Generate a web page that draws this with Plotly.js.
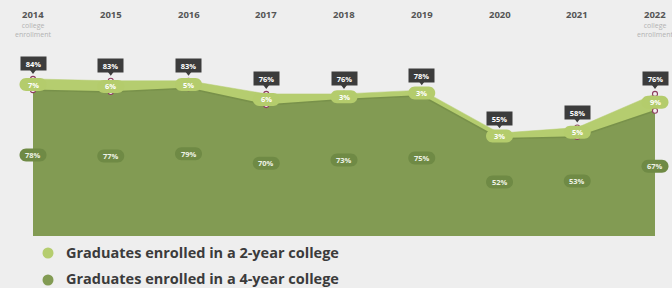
<!DOCTYPE html>
<html><head><meta charset="utf-8">
<script src="https://cdn.plot.ly/plotly-3.0.1.min.js"></script>
<style>html,body{margin:0;padding:0;background:#eeeeee;overflow:hidden}#chart{width:672px;height:288px;}</style>
</head><body><div id="chart"></div><script>
const years = [2014, 2015, 2016, 2017, 2018, 2019, 2020, 2021, 2022];
const total = [84, 83, 83, 76, 76, 78, 55, 58, 76];
const fourYear = [78, 77, 79, 70, 73, 75, 52, 53, 67];
const twoYear = [7, 6, 5, 6, 3, 3, 3, 5, 9];
const seriesNames = ['Graduates enrolled in a 2-year college', 'Graduates enrolled in a 4-year college'];
const subLabel = ['college', 'enrollment'];

const W = 672, H = 288;
const M = {l: 0, r: 0, t: 49, b: 52};
const xLeftPx = 33, xRightPx = 655; // pixel of first/last year
const pxPerYear = (xRightPx - xLeftPx) / (years.length - 1);
const xRange = [years[0] - xLeftPx / pxPerYear, years[years.length - 1] + (W - xRightPx) / pxPerYear];
const plotH = H - M.t - M.b;
const px2paperX = p => p / W;
const px2paperY = p => (H - M.b - p) / plotH;

const C = {
  bg: '#eeeeee', dark: '#829b53', darkLine: '#78914a', light: '#b5cd6f',
  darkPill: '#6f8a45', lightPill: '#b4cc6c', tip: '#3c3c3c', marker: '#8c3b5e'
};
const FONT = '"Open Sans", Lato, sans-serif';

function pill(w, h) {
  const r = h / 2, a = w / 2 - r, k = 0.5523 * r;
  return `M ${-a},${r} L ${a},${r} C ${a + k},${r} ${a + r},${k} ${a + r},0 C ${a + r},${-k} ${a + k},${-r} ${a},${-r} L ${-a},${-r} C ${-a - k},${-r} ${-a - r},${-k} ${-a - r},0 C ${-a - r},${k} ${-a - k},${r} ${-a},${r} Z`;
}

const traces = [
  {x: years, y: fourYear, type: 'scatter', mode: 'lines', fill: 'tozeroy', fillcolor: C.dark,
   line: {color: C.darkLine, width: 1.5}, hoverinfo: 'skip', name: seriesNames[1]},
  {x: years, y: total, type: 'scatter', mode: 'lines', fill: 'tonexty', fillcolor: C.light,
   line: {color: C.light, width: 0.5}, hoverinfo: 'skip', name: seriesNames[0]},
  {x: years.concat(years), y: fourYear.concat(total), type: 'scatter', mode: 'markers',
   marker: {size: 5, color: '#f3eef0', line: {color: C.marker, width: 1.1}}, hoverinfo: 'skip', showlegend: false}
];

const shapes = [];
const annotations = [];
years.forEach((yr, i) => {
  const mid = (total[i] + fourYear[i]) / 2;
  const lowY = fourYear[i] * 0.556;
  shapes.push({type: 'path', xref: 'x', yref: 'y', xsizemode: 'pixel', ysizemode: 'pixel',
    xanchor: yr, yanchor: mid, path: pill(27, 13), fillcolor: C.lightPill, line: {width: 0}, layer: 'above'});
  shapes.push({type: 'path', xref: 'x', yref: 'y', xsizemode: 'pixel', ysizemode: 'pixel',
    xanchor: yr, yanchor: lowY, path: pill(27, 13), fillcolor: C.darkPill, line: {width: 0}, layer: 'above'});
  shapes.push({type: 'path', xref: 'x', yref: 'y', xsizemode: 'pixel', ysizemode: 'pixel',
    xanchor: yr, yanchor: total[i], path: 'M -3,9 L 3,9 L 0,5 Z', fillcolor: C.tip, line: {width: 0}, layer: 'above'});

  annotations.push({x: yr, y: mid, xref: 'x', yref: 'y', text: twoYear[i] + '%', showarrow: false,
    font: {family: FONT, size: 7.5, color: '#ffffff', weight: 700}});
  annotations.push({x: yr, y: lowY, xref: 'x', yref: 'y', text: fourYear[i] + '%', showarrow: false,
    font: {family: FONT, size: 7.5, color: '#eef2e6', weight: 700}});
  annotations.push({x: yr, y: total[i], xref: 'x', yref: 'y', yshift: 15, text: total[i] + '%', showarrow: false,
    bgcolor: C.tip, borderpad: 2, width: 21, height: 9,
    font: {family: FONT, size: 7.5, color: '#ffffff', weight: 700}});
  annotations.push({x: yr, xref: 'x', y: 1, yref: 'paper', yanchor: 'middle', yshift: 35, text: String(yr), showarrow: false,
    font: {family: FONT, size: 9.5, color: '#555555', weight: 700}});
});
[0, years.length - 1].forEach(i => {
  annotations.push({x: years[i], xref: 'x', y: 1, yref: 'paper', yanchor: 'middle', yshift: 19.5, text: subLabel.join('<br>'),
    showarrow: false, borderpad: 0, font: {family: FONT, size: 7, color: '#b3b3b3'}});
});
const legendColors = [C.light, C.dark];
const legendY = [253, 278.5];
seriesNames.forEach((n, j) => {
  shapes.push({type: 'circle', xref: 'paper', yref: 'paper', xsizemode: 'pixel', ysizemode: 'pixel',
    xanchor: px2paperX(48), yanchor: px2paperY(legendY[j] + (j ? 1.5 : 0)), x0: -5.5, x1: 5.5, y0: -5.5, y1: 5.5,
    fillcolor: legendColors[j], line: {width: 0}});
  annotations.push({x: px2paperX(65), xref: 'paper', xanchor: 'left', y: px2paperY(legendY[j]), yref: 'paper',
    yanchor: 'middle', borderpad: 0, text: n, showarrow: false,
    font: {family: FONT, size: 14.5, color: '#3b3b3b', weight: 700}});
});

const layout = {
  width: W, height: H, margin: M, paper_bgcolor: C.bg, plot_bgcolor: C.bg, showlegend: false,
  xaxis: {range: xRange, visible: false, fixedrange: true},
  yaxis: {range: [0, 100], visible: false, fixedrange: true},
  shapes, annotations
};
Plotly.newPlot('chart', traces, layout, {displayModeBar: false, staticPlot: true});
</script></body></html>
